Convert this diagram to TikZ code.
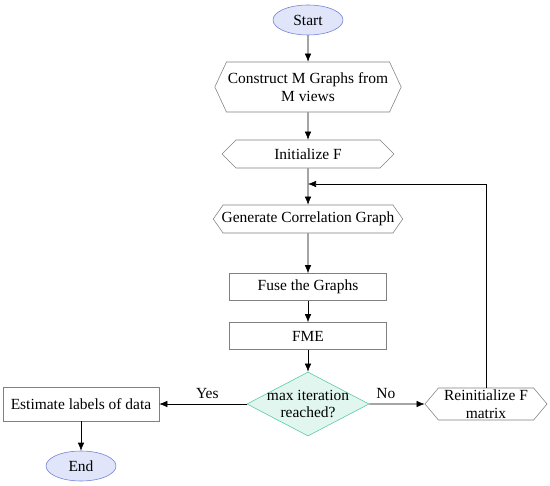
\documentclass[tikz,border=0pt]{standalone}
\usepackage{fontspec}
\setmainfont{Liberation Serif}
\usetikzlibrary{arrows.meta,shapes}
\definecolor{termfill}{RGB}{224,229,250}
\definecolor{termdraw}{RGB}{112,126,214}
\definecolor{decfill}{RGB}{224,246,238}
\definecolor{decdraw}{RGB}{84,202,164}
\begin{document}
\begin{tikzpicture}[x=0.025cm, y=-0.025cm, font=\fontsize{11}{12.5}\selectfont, term/.style={ellipse, draw=termdraw, fill=termfill, minimum width=1.75cm, minimum height=0.75cm, inner sep=0pt}, proc/.style={rectangle, draw=gray, minimum width=3.925cm, minimum height=0.675cm}, prep/.style={signal, signal to=west and east, signal pointer angle=110, draw=gray, inner sep=1pt, align=center}, dec/.style={diamond, draw=decdraw, fill=decfill, aspect=2, inner sep=-3pt, minimum width=3.05cm, minimum height=1.6cm, align=center}, >={Latex[length=2mm,width=1.6mm]}]
\useasboundingbox (0,0) rectangle (550,485);
\node[term] (start) at (308,20) {Start};
\node[prep, signal pointer angle=130, minimum width=4.3cm, minimum height=1.25cm] (build) at (308,87) {Construct M Graphs from\\M views};
\node[prep, signal pointer angle=90, minimum width=4.3cm, minimum height=0.7cm] (init) at (308,154) {Initialize F};
\coordinate (merge) at (308,184);
\node[prep, signal pointer angle=110, inner xsep=-1pt, minimum height=0.7cm] (corr) at (308,219) {Generate Correlation Graph};
\node[proc] (fuse) at (308,287) {Fuse the Graphs};
\node[proc] (fme) at (308,336) {FME};
\node[dec] (check) at (308,404) {max iteration\\reached?};
\node[proc, minimum width=3.9cm, minimum height=0.85cm] (est) at (81,404) {Estimate labels of data};
\node[term] (end) at (81,466) {End};
\node[prep, signal pointer angle=100, minimum width=3.05cm, minimum height=0.8cm] (reinit) at (486,404) {Reinitialize F\\matrix};
\draw[->] (start) -- (build); \draw[->] (build) -- (init); \draw[->] (init) -- (corr); \draw[->] (corr) -- (fuse); \draw[->] (fuse) -- (fme); \draw[->] (fme) -- (check);
\draw[->] (check) -- node[above, pos=0.45] {Yes} (est); \draw[->] (check) -- node[above, pos=0.3] {No} (reinit); \draw[->] (est) -- (end);
\draw[->] (reinit) |- (merge);
\end{tikzpicture}
\end{document}
